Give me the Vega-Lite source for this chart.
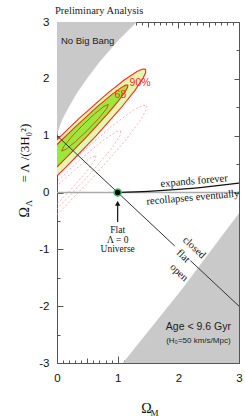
{
 "$schema": "https://vega.github.io/schema/vega-lite/v6.json",
 "width": 182,
 "height": 341,
 "autosize": {"type": "none"},
 "padding": {"left": 57, "top": 22, "right": 6, "bottom": 53},
 "background": "white",
 "title": {"text": "Preliminary Analysis", "anchor": "start", "frame": "group", "font": "Liberation Serif", "fontSize": 10.5, "fontWeight": "normal", "color": "#222", "offset": 0, "dx": -2},
 "config": {"view": {"stroke": "#555", "strokeWidth": 1}, "axis": {"grid": false, "domain": false}},
 "resolve": {"axis": {"x": "independent", "y": "independent"}},
 "datasets": {
  "nobb": [
   {"m": 0, "l": 1.0, "i": 0}, {"m": 0.02, "l": 1.1, "i": 1}, {"m": 0.08, "l": 1.28, "i": 2}, {"m": 0.2, "l": 1.52, "i": 3},
   {"m": 0.32, "l": 1.74, "i": 4}, {"m": 0.5, "l": 2.02, "i": 5}, {"m": 0.7, "l": 2.3, "i": 6}, {"m": 1.0, "l": 2.67, "i": 7},
   {"m": 1.31, "l": 3.0, "i": 8}, {"m": 0, "l": 3.0, "i": 9}
  ],
  "age": [
   {"m": 1.09, "l": -3, "i": 0}, {"m": 2.05, "l": -1.72, "i": 1}, {"m": 3, "l": -0.37, "i": 2}, {"m": 3, "l": -3, "i": 3}
  ],
  "e90": [
   {"m": 1.459, "l": 2.167, "i": 0}, {"m": 1.463, "l": 2.115, "i": 1}, {"m": 1.422, "l": 2.018, "i": 2}, {"m": 1.282, "l": 1.793, "i": 3},
   {"m": 1.054, "l": 1.487, "i": 4}, {"m": 0.641, "l": 0.991, "i": 5}, {"m": 0.152, "l": 0.449, "i": 6}, {"m": -0.598, "l": -0.307, "i": 7},
   {"m": -1.187, "l": -0.818, "i": 8}, {"m": -1.459, "l": -0.945, "i": 9}, {"m": -1.339, "l": -0.656, "i": 10}, {"m": -0.861, "l": -0.027, "i": 11},
   {"m": -0.152, "l": 0.773, "i": 12}, {"m": 0.356, "l": 1.295, "i": 13}, {"m": 0.821, "l": 1.735, "i": 14}, {"m": 1.108, "l": 1.979, "i": 15},
   {"m": 1.319, "l": 2.129, "i": 16}, {"m": 1.41, "l": 2.172, "i": 17}
  ],
  "e68": [
   {"m": 1.167, "l": 1.891, "i": 0}, {"m": 1.165, "l": 1.855, "i": 1}, {"m": 1.128, "l": 1.782, "i": 2}, {"m": 1.009, "l": 1.609, "i": 3},
   {"m": 0.822, "l": 1.37, "i": 4}, {"m": 0.487, "l": 0.978, "i": 5}, {"m": 0.093, "l": 0.546, "i": 6}, {"m": -0.503, "l": -0.063, "i": 7},
   {"m": -0.964, "l": -0.482, "i": 8}, {"m": -1.167, "l": -0.599, "i": 9}, {"m": -1.057, "l": -0.382, "i": 10}, {"m": -0.664, "l": 0.11, "i": 11},
   {"m": -0.093, "l": 0.746, "i": 12}, {"m": 0.311, "l": 1.165, "i": 13}, {"m": 0.679, "l": 1.523, "i": 14}, {"m": 0.902, "l": 1.723, "i": 15},
   {"m": 1.064, "l": 1.85, "i": 16}, {"m": 1.133, "l": 1.889, "i": 17}
  ],
  "inner": [
   {"m": 0.847, "l": 1.55, "i": 0}, {"m": 0.816, "l": 1.473, "i": 1}, {"m": 0.69, "l": 1.307, "i": 2}, {"m": 0.503, "l": 1.095, "i": 3},
   {"m": 0.305, "l": 0.896, "i": 4}, {"m": 0.149, "l": 0.761, "i": 5}, {"m": 0.077, "l": 0.728, "i": 6}, {"m": 0.108, "l": 0.805, "i": 7},
   {"m": 0.234, "l": 0.971, "i": 8}, {"m": 0.421, "l": 1.183, "i": 9}, {"m": 0.619, "l": 1.382, "i": 10}, {"m": 0.775, "l": 1.517, "i": 11}
  ],
  "dashed": [
   {"c": "a", "m": 1.471, "l": 1.529, "i": 0}, {"c": "a", "m": 1.476, "l": 1.473, "i": 1}, {"c": "a", "m": 1.392, "l": 1.297, "i": 2},
   {"c": "a", "m": 1.122, "l": 0.91, "i": 3}, {"c": "a", "m": 0.581, "l": 0.252, "i": 4}, {"c": "a", "m": 0.048, "l": -0.338, "i": 5},
   {"c": "a", "m": -1.01, "l": -1.386, "i": 6}, {"c": "a", "m": -1.703, "l": -1.857, "i": 7}, {"c": "a", "m": -1.261, "l": -1.118, "i": 8},
   {"c": "a", "m": -0.279, "l": 0.011, "i": 9}, {"c": "a", "m": 0.274, "l": 0.579, "i": 10}, {"c": "a", "m": 0.891, "l": 1.157, "i": 11},
   {"c": "a", "m": 1.254, "l": 1.445, "i": 12}, {"c": "a", "m": 1.419, "l": 1.534, "i": 13},
   {"c": "b", "m": 1.051, "l": 1.081, "i": 0}, {"c": "b", "m": 1.042, "l": 1.007, "i": 1}, {"c": "b", "m": 0.907, "l": 0.785, "i": 2},
   {"c": "b", "m": 0.569, "l": 0.351, "i": 3}, {"c": "b", "m": 0.001, "l": -0.288, "i": 4}, {"c": "b", "m": -0.776, "l": -1.059, "i": 5},
   {"c": "b", "m": -1.282, "l": -1.409, "i": 6}, {"c": "b", "m": -0.955, "l": -0.869, "i": 7}, {"c": "b", "m": -0.232, "l": -0.039, "i": 8},
   {"c": "b", "m": 0.367, "l": 0.567, "i": 9}, {"c": "b", "m": 0.773, "l": 0.928, "i": 10}, {"c": "b", "m": 0.981, "l": 1.071, "i": 11},
   {"c": "c", "m": 0.643, "l": 0.646, "i": 0}, {"c": "c", "m": 0.623, "l": 0.569, "i": 1}, {"c": "c", "m": 0.474, "l": 0.351, "i": 2},
   {"c": "c", "m": 0.215, "l": 0.037, "i": 3}, {"c": "c", "m": -0.04, "l": -0.245, "i": 4}, {"c": "c", "m": -0.598, "l": -0.793, "i": 5},
   {"c": "c", "m": -0.874, "l": -0.973, "i": 6}, {"c": "c", "m": -0.705, "l": -0.679, "i": 7}, {"c": "c", "m": -0.191, "l": -0.083, "i": 8},
   {"c": "c", "m": 0.073, "l": 0.189, "i": 9}, {"c": "c", "m": 0.367, "l": 0.466, "i": 10}, {"c": "c", "m": 0.571, "l": 0.624, "i": 11}
  ],
  "zero": [{"m": 0, "l": 0}, {"m": 3, "l": 0}],
  "flatline": [
   {"s": "a", "m": 0, "l": 1}, {"s": "a", "m": 1.94, "l": -0.94},
   {"s": "b", "m": 2.2, "l": -1.2}, {"s": "b", "m": 3, "l": -2}
  ],
  "curve": [
   {"m": 1, "l": 0}, {"m": 1.5, "l": 0.02}, {"m": 2, "l": 0.055}, {"m": 2.5, "l": 0.105}, {"m": 3, "l": 0.165}
  ],
  "arrow": [{"m": 1, "l": -0.52, "l2": -0.2}],
  "arrowhead": [{"m": 1, "l": -0.19}],
  "dot": [{"m": 1, "l": 0}],
  "t_nobb": [{"m": 0.066, "l": 2.67, "t": "No Big Bang"}],
  "t_age": [{"m": 2.33, "l": -2.36, "t": "Age < 9.6 Gyr"}],
  "t_h0": [{"m": 2.33, "l": -2.61, "t": "(H₀=50 km/s/Mpc)"}],
  "t_flat": [
   {"m": 1, "l": -0.66, "t": "Flat"}, {"m": 1, "l": -0.83, "t": "Λ = 0"}, {"m": 1, "l": -1.0, "t": "Universe"}
  ],
  "t_exp": [
   {"m": 2.26, "l": 0.2, "t": "expands forever"}, {"m": 2.24, "l": -0.09, "t": "recollapses eventually"}
  ],
  "t_geo": [
   {"m": 2.26, "l": -0.97, "t": "closed"}, {"m": 2.08, "l": -1.12, "t": "flat"}, {"m": 2.01, "l": -1.41, "t": "open"}
  ],
  "t_conf": [
   {"m": 1.37, "l": 1.93, "t": "90%"}, {"m": 1.045, "l": 1.71, "t": "68"}
  ]
 },
 "layer": [
  {
   "data": {"name": "nobb"},
   "mark": {"type": "line", "interpolate": "linear-closed", "fill": "#c9c9c9", "stroke": "#c9c9c9", "strokeWidth": 0.5, "clip": true},
   "encoding": {
    "x": {"field": "m", "type": "quantitative", "scale": {"domain": [0, 3], "nice": false, "zero": false},
     "axis": {"orient": "bottom", "values": [0,0.1,0.2,0.3,0.4,0.5,0.6,0.7,0.8,0.9,1,1.1,1.2,1.3,1.4,1.5,1.6,1.7,1.8,1.9,2,2.1,2.2,2.3,2.4,2.5,2.6,2.7,2.8,2.9,3],
      "tickSize": {"condition": [{"test": "datum.value % 1 === 0", "value": -7}, {"test": "round(datum.value*10) % 5 === 0", "value": -5}], "value": -3},
      "tickColor": "#555", "tickWidth": 1, "domain": false,
      "labelExpr": "datum.value % 1 === 0 ? '' + datum.value : ''", "labelOverlap": false, "labelFlush": false,
      "labelFont": "Liberation Sans", "labelFontSize": 11.5, "labelColor": "#111", "labelPadding": 16,
      "title": "Ω", "titleFont": "Liberation Serif", "titleFontSize": 14, "titleFontWeight": "normal", "titleColor": "#111",
      "titleX": 89, "titleY": 49, "titleAlign": "center", "titleBaseline": "alphabetic"}},
    "y": {"field": "l", "type": "quantitative", "scale": {"domain": [-3, 3], "nice": false, "zero": false},
     "axis": {"orient": "left", "values": [-3,-2.5,-2,-1.5,-1,-0.5,0,0.5,1,1.5,2,2.5,3],
      "tickSize": {"condition": {"test": "datum.value % 1 === 0", "value": -6}, "value": -3},
      "tickColor": "#555", "tickWidth": 1, "domain": false,
      "labelExpr": "datum.value % 1 === 0 ? '' + datum.value : ''", "labelOverlap": false, "labelFlush": false,
      "labelFont": "Liberation Sans", "labelFontSize": 11.5, "labelColor": "#111", "labelPadding": 14,
      "title": "Ω", "titleFont": "Liberation Serif", "titleFontSize": 14, "titleFontWeight": "normal", "titleColor": "#111",
      "titleAngle": -90, "titleX": -29, "titleY": 195, "titleAlign": "left", "titleBaseline": "alphabetic"}},
    "order": {"field": "i", "type": "quantitative"}
   }
  },
  {
   "data": {"name": "age"},
   "mark": {"type": "line", "interpolate": "linear-closed", "fill": "#c9c9c9", "stroke": "#c9c9c9", "strokeWidth": 0.5, "clip": true},
   "encoding": {
    "x": {"field": "m", "type": "quantitative", "scale": {"domain": [0, 3], "nice": false, "zero": false},
     "axis": {"orient": "top", "values": [0,0.1,0.2,0.3,0.4,0.5,0.6,0.7,0.8,0.9,1,1.1,1.2,1.3,1.4,1.5,1.6,1.7,1.8,1.9,2,2.1,2.2,2.3,2.4,2.5,2.6,2.7,2.8,2.9,3],
      "tickSize": {"condition": [{"test": "datum.value % 1 === 0", "value": -6}, {"test": "round(datum.value*10) % 5 === 0", "value": -5}], "value": -3},
      "tickColor": "#555", "tickWidth": 1, "domain": false, "labels": false, "title": null}},
    "y": {"field": "l", "type": "quantitative", "scale": {"domain": [-3, 3], "nice": false, "zero": false},
     "axis": {"orient": "right", "values": [-3,-2.5,-2,-1.5,-1,-0.5,0,0.5,1,1.5,2,2.5,3],
      "tickSize": {"condition": {"test": "datum.value % 1 === 0", "value": -5}, "value": -3},
      "tickColor": "#555", "tickWidth": 1, "domain": false, "labels": false, "title": null}},
    "order": {"field": "i", "type": "quantitative"}
   }
  },
  {
   "data": {"name": "dashed"},
   "mark": {"type": "line", "interpolate": "linear-closed", "stroke": "#ff9f9f", "strokeWidth": 0.8, "strokeDash": [2, 2], "clip": true},
   "encoding": {
    "x": {"field": "m", "type": "quantitative", "axis": null},
    "y": {"field": "l", "type": "quantitative", "axis": null},
    "detail": {"field": "c", "type": "nominal"},
    "order": {"field": "i", "type": "quantitative"}
   }
  },
  {
   "data": {"name": "e90"},
   "mark": {"type": "line", "interpolate": "linear-closed", "fill": "#e2f8b0", "stroke": "#ff2a1a", "strokeWidth": 1.1, "clip": true},
   "encoding": {
    "x": {"field": "m", "type": "quantitative", "axis": null},
    "y": {"field": "l", "type": "quantitative", "axis": null},
    "order": {"field": "i", "type": "quantitative"}
   }
  },
  {
   "data": {"name": "e68"},
   "mark": {"type": "line", "interpolate": "linear-closed", "fill": "#9be83c", "stroke": "#ff2a1a", "strokeWidth": 1.1, "clip": true},
   "encoding": {
    "x": {"field": "m", "type": "quantitative", "axis": null},
    "y": {"field": "l", "type": "quantitative", "axis": null},
    "order": {"field": "i", "type": "quantitative"}
   }
  },
  {
   "data": {"name": "inner"},
   "mark": {"type": "line", "interpolate": "linear-closed", "stroke": "#d03a10", "strokeWidth": 0.8, "clip": true},
   "encoding": {
    "x": {"field": "m", "type": "quantitative", "axis": null},
    "y": {"field": "l", "type": "quantitative", "axis": null},
    "order": {"field": "i", "type": "quantitative"}
   }
  },
  {
   "data": {"name": "zero"},
   "mark": {"type": "line", "stroke": "#aaaaaa", "strokeWidth": 1.5, "clip": true},
   "encoding": {
    "x": {"field": "m", "type": "quantitative", "axis": null},
    "y": {"field": "l", "type": "quantitative", "axis": null}
   }
  },
  {
   "data": {"name": "flatline"},
   "mark": {"type": "line", "stroke": "#333333", "strokeWidth": 1, "clip": true},
   "encoding": {
    "x": {"field": "m", "type": "quantitative", "axis": null},
    "y": {"field": "l", "type": "quantitative", "axis": null},
    "detail": {"field": "s", "type": "nominal"}
   }
  },
  {
   "data": {"name": "curve"},
   "mark": {"type": "line", "stroke": "#111111", "strokeWidth": 1.2, "interpolate": "monotone", "clip": true},
   "encoding": {
    "x": {"field": "m", "type": "quantitative", "axis": null},
    "y": {"field": "l", "type": "quantitative", "axis": null}
   }
  },
  {
   "data": {"name": "arrow"},
   "mark": {"type": "rule", "color": "#111111", "strokeWidth": 1.2},
   "encoding": {
    "x": {"field": "m", "type": "quantitative", "axis": null},
    "y": {"field": "l", "type": "quantitative", "axis": null},
    "y2": {"field": "l2"}
   }
  },
  {
   "data": {"name": "arrowhead"},
   "mark": {"type": "point", "shape": "triangle-up", "filled": true, "color": "#111111", "size": 30, "opacity": 1},
   "encoding": {
    "x": {"field": "m", "type": "quantitative", "axis": null},
    "y": {"field": "l", "type": "quantitative", "axis": null}
   }
  },
  {
   "data": {"name": "dot"},
   "mark": {"type": "point", "filled": true, "fill": "#000000", "stroke": "#36c070", "strokeWidth": 1.5, "size": 50, "opacity": 1},
   "encoding": {
    "x": {"field": "m", "type": "quantitative", "axis": null},
    "y": {"field": "l", "type": "quantitative", "axis": null}
   }
  },
  {
   "data": {"name": "t_nobb"},
   "mark": {"type": "text", "font": "Liberation Sans", "fontSize": 9.5, "color": "#222", "align": "left", "baseline": "middle"},
   "encoding": {
    "x": {"field": "m", "type": "quantitative",
     "axis": {"orient": "bottom", "ticks": false, "labels": false, "domain": false,
      "title": "M", "titleFont": "Liberation Serif", "titleFontSize": 9, "titleFontWeight": "normal", "titleColor": "#111",
      "titleX": 93, "titleY": 52, "titleAlign": "left", "titleBaseline": "alphabetic"}},
    "y": {"field": "l", "type": "quantitative",
     "axis": {"orient": "left", "ticks": false, "labels": false, "domain": false,
      "title": "Λ", "titleFont": "Liberation Serif", "titleFontSize": 9, "titleFontWeight": "normal", "titleColor": "#111",
      "titleAngle": -90, "titleX": -26, "titleY": 184, "titleAlign": "left", "titleBaseline": "alphabetic"}},
    "text": {"field": "t"}
   }
  },
  {
   "data": {"name": "t_age"},
   "mark": {"type": "text", "font": "Liberation Sans", "fontSize": 10.5, "color": "#222", "align": "center", "baseline": "middle"},
   "encoding": {
    "x": {"field": "m", "type": "quantitative", "axis": null},
    "y": {"field": "l", "type": "quantitative",
     "axis": {"orient": "left", "ticks": false, "labels": false, "domain": false,
      "title": "=  Λ /(3H₀²)", "titleFont": "Liberation Serif", "titleFontSize": 13, "titleFontWeight": "normal", "titleColor": "#111",
      "titleAngle": -90, "titleX": -29, "titleY": 160, "titleAlign": "left", "titleBaseline": "alphabetic"}},
    "text": {"field": "t"}
   }
  },
  {
   "data": {"name": "t_h0"},
   "mark": {"type": "text", "font": "Liberation Sans", "fontSize": 8, "color": "#222", "align": "center", "baseline": "middle"},
   "encoding": {
    "x": {"field": "m", "type": "quantitative", "axis": null},
    "y": {"field": "l", "type": "quantitative", "axis": null},
    "text": {"field": "t"}
   }
  },
  {
   "data": {"name": "t_flat"},
   "mark": {"type": "text", "font": "Liberation Serif", "fontSize": 9.5, "color": "#111", "align": "center", "baseline": "middle"},
   "encoding": {
    "x": {"field": "m", "type": "quantitative", "axis": null},
    "y": {"field": "l", "type": "quantitative", "axis": null},
    "text": {"field": "t"}
   }
  },
  {
   "data": {"name": "t_exp"},
   "mark": {"type": "text", "font": "Liberation Serif", "fontSize": 10.5, "color": "#111", "align": "center", "baseline": "middle", "angle": -5},
   "encoding": {
    "x": {"field": "m", "type": "quantitative", "axis": null},
    "y": {"field": "l", "type": "quantitative", "axis": null},
    "text": {"field": "t"}
   }
  },
  {
   "data": {"name": "t_geo"},
   "mark": {"type": "text", "font": "Liberation Serif", "fontSize": 10.5, "color": "#111", "align": "center", "baseline": "middle", "angle": 43},
   "encoding": {
    "x": {"field": "m", "type": "quantitative", "axis": null},
    "y": {"field": "l", "type": "quantitative", "axis": null},
    "text": {"field": "t"}
   }
  },
  {
   "data": {"name": "t_conf"},
   "mark": {"type": "text", "font": "Liberation Sans", "fontSize": 10.5, "color": "#ff2a1a", "align": "center", "baseline": "middle"},
   "encoding": {
    "x": {"field": "m", "type": "quantitative", "axis": null},
    "y": {"field": "l", "type": "quantitative", "axis": null},
    "text": {"field": "t"}
   }
  }
 ]
}
